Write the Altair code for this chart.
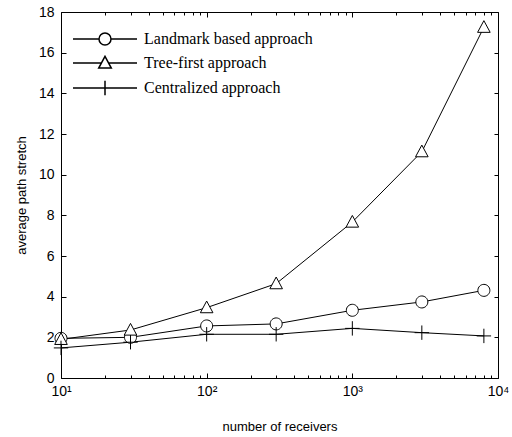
import altair as alt
import pandas as pd

# ---- data ----
receivers = [10, 30, 100, 300, 1000, 3000, 8000]
landmark = [1.95, 2.0, 2.56, 2.66, 3.33, 3.74, 4.31]
tree_first = [1.9, 2.36, 3.46, 4.64, 7.67, 11.13, 17.25]
centralized = [1.48, 1.76, 2.15, 2.15, 2.44, 2.23, 2.07]

series_names = ["Landmark based approach", "Tree-first approach", "Centralized approach"]

x_major = [10, 100, 1000, 10000]
x_major_labels = ["10\u00b9", "10\u00b2", "10\u00b3", "10\u2074"]
x_minor = [20, 30, 40, 50, 60, 70, 80, 90, 200, 300, 400, 500, 600, 700, 800, 900,
           2000, 3000, 4000, 5000, 6000, 7000, 8000, 9000]
y_ticks = [0, 2, 4, 6, 8, 10, 12, 14, 16, 18]

rows = []
for name, vals in zip(series_names, [landmark, tree_first, centralized]):
    for xv, yv in zip(receivers, vals):
        rows.append({"receivers": xv, "stretch": yv, "series": name})
df = pd.DataFrame(rows)

# marker shapes (unit coordinates, scaled by sqrt(size)/2)
circle = "M1,0A1,1,0,1,1,-1,0A1,1,0,1,1,1,0Z"
triangle = "M0,-1.1L1.05,0.85L-1.05,0.85Z"
plus = "M-1.2,0H1.2M0,-1.2V1.2"
# legend symbols (default legend symbol size 100): line sample + marker
circle_leg = "M-6.4,0H-1.2M1.2,0H6.4M1.2,0A1.2,1.2,0,1,1,-1.2,0A1.2,1.2,0,1,1,1.2,0Z"
triangle_leg = "M-6.4,0H-0.71M0.71,0H6.4M0,-1.32L1.26,1.02L-1.26,1.02Z"
plus_leg = "M-6.4,0H6.4M0,-1.44V1.44"

label_expr = " : ".join(
    f"datum.value == {v} ? '{l}'" for v, l in zip(x_major, x_major_labels)
) + " : ''"

xscale = alt.Scale(type="log", domain=[10, 10000], nice=False)
yscale = alt.Scale(domain=[0, 18], nice=False, zero=False)

sans = "Liberation Sans"
serif = "Liberation Serif"

base = alt.Chart(df)

lines = base.mark_line(color="black", strokeWidth=1).encode(
    x=alt.X("receivers:Q", scale=xscale, axis=alt.Axis(
        orient="bottom", values=x_major, tickSize=5, offset=-5, domain=False,
        labelExpr=label_expr, labelFont=sans, labelFontSize=14, labelColor="black",
        labelPadding=6, labelFlush=False, tickColor="black", grid=False,
        title="number of receivers", titleFont=sans, titleFontSize=13,
        titleFontWeight="normal", titleColor="black", titlePadding=22)),
    y=alt.Y("stretch:Q", scale=yscale, axis=alt.Axis(
        orient="left", values=y_ticks, tickSize=5, offset=-5, domain=False,
        labelFont=sans, labelFontSize=14, labelColor="black", labelPadding=7,
        labelFlush=False, tickColor="black", grid=False,
        title="average path stretch", titleFont=sans, titleFontSize=13,
        titleFontWeight="normal", titleColor="black", titlePadding=10)),
    detail="series:N",
)

points = base.mark_point(filled=True, fill="white", stroke="black", strokeWidth=1,
                         size=144, opacity=1).encode(
    x=alt.X("receivers:Q", scale=xscale, axis=alt.Axis(
        orient="bottom", values=x_minor, tickSize=3, offset=-3, domain=False,
        labels=False, title=None, grid=False, tickColor="black")),
    y=alt.Y("stretch:Q", scale=yscale, axis=alt.Axis(
        orient="right", values=y_ticks, tickSize=4, offset=-4, domain=False,
        labels=False, title=None, grid=False, tickColor="black")),
    shape=alt.Shape("series:N", scale=alt.Scale(domain=series_names,
                    range=[circle, triangle, plus]), legend=None),
)

# legend-only layer: no marks drawn (filtered out), legend built from its shape scale
legend_layer = base.transform_filter("false").mark_point(
    filled=True, fill="white", stroke="black", strokeWidth=1, size=144, opacity=1
).encode(
    x=alt.X("receivers:Q", scale=xscale, axis=alt.Axis(
        orient="top", values=x_major, tickSize=5, offset=-5, domain=False,
        labels=False, title=None, grid=False, tickColor="black")),
    y=alt.Y("stretch:Q", scale=yscale, axis=None),
    shape=alt.Shape("series:N", scale=alt.Scale(domain=series_names,
                    range=[circle_leg, triangle_leg, plus_leg]),
                    legend=alt.Legend(orient="none", legendX=36, legendY=19,
                                      title=None, padding=0,
                                      labelFont=serif, labelFontSize=16, labelLimit=400,
                                      labelColor="black", labelOffset=31,
                                      rowPadding=5)),
)

top_minor = base.transform_filter("false").mark_point(opacity=0).encode(
    x=alt.X("receivers:Q", scale=xscale, axis=alt.Axis(
        orient="top", values=x_minor, tickSize=3, offset=-3, domain=False,
        labels=False, title=None, grid=False, tickColor="black")),
    y=alt.Y("stretch:Q", scale=yscale, axis=None),
)

chart = alt.layer(lines, points, legend_layer, top_minor).resolve_axis(
    x="independent", y="independent"
).resolve_scale(shape="independent").properties(
    width=437, height=366,
    autosize=alt.AutoSizeParams(type="none"),
    padding={"left": 61, "top": 12, "right": 14, "bottom": 59},
    background="white",
).configure_view(stroke="black", strokeWidth=1)

chart.save("out.html", embed_options={"renderer": "svg", "actions": False})
